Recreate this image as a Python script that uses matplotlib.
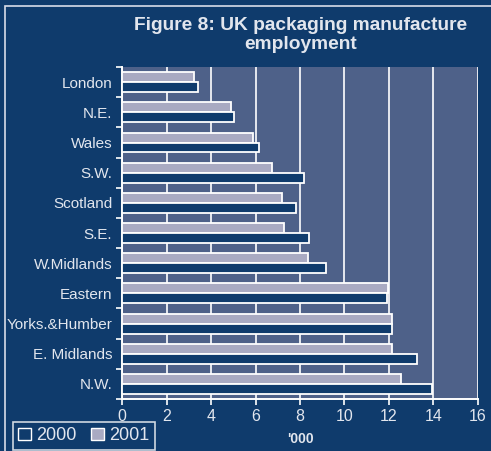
import matplotlib.pyplot as plt
import numpy as np
from matplotlib.patches import Patch, Rectangle

regions = ['London', 'N.E.', 'Wales', 'S.W.', 'Scotland', 'S.E.', 'W.Midlands',
           'Eastern', 'Yorks.&Humber', 'E. Midlands', 'N.W.']
emp_2000 = [3.4, 5.05, 6.15, 8.2, 7.8, 8.4, 9.15, 11.9, 12.15, 13.25, 13.95]
emp_2001 = [3.25, 4.9, 5.9, 6.75, 7.2, 7.3, 8.35, 11.95, 12.15, 12.15, 12.55]
xticks = [0, 2, 4, 6, 8, 10, 12, 14, 16]

navy = '#0f3b6c'
slate = '#4e6189'
lilac = '#a9aac2'
txt = '#e2e6ee'

plt.rcParams['font.family'] = ['Liberation Sans', 'DejaVu Sans']

fig = plt.figure(figsize=(4.91, 4.51), dpi=100, facecolor=navy)
ax = fig.add_axes([0.2485, 0.1153, 0.725, 0.736])
ax.set_facecolor(slate)

y = np.arange(len(regions))
h = 0.33
ax.barh(y - h / 2, emp_2001, height=h, color=lilac, edgecolor='white', linewidth=1.3, zorder=3)
ax.barh(y + h / 2, emp_2000, height=h, color=navy, edgecolor='white', linewidth=1.3, zorder=3)

ax.set_xlim(0, 16)
ax.set_ylim(len(regions) - 0.5, -0.5)
ax.set_xticks(xticks)
ax.set_xticklabels([str(t) for t in xticks], fontsize=11.5, color=txt)
ax.set_yticks(y)
ax.set_yticklabels(regions, fontsize=11, color=txt)
ax.set_yticks(np.arange(len(regions) + 1) - 0.5, minor=True)
ax.tick_params(axis='y', which='major', length=0, pad=7)
ax.tick_params(axis='y', which='minor', length=4, color='white', width=1.2)
ax.tick_params(axis='x', length=4, color='white', width=1.2, pad=3)
ax.grid(axis='x', color='white', linewidth=1.2, zorder=1)
ax.set_axisbelow(True)

for side in ['top', 'right']:
    ax.spines[side].set_visible(False)
for side in ['left', 'bottom']:
    ax.spines[side].set_color('white')
    ax.spines[side].set_linewidth(1.4)

ax.set_xlabel("'000", fontsize=10, fontweight='bold', color=txt, labelpad=6)

fig.text(0.612, 1 - 35 / 451, 'Figure 8: UK packaging manufacture\nemployment',
         ha='center', va='center', fontsize=13.8, fontweight='bold', color=txt,
         linespacing=1.15)

# outer frame line (left and top edges only show)
fig.add_artist(Rectangle((5 / 491, -0.1), 1.2, 1.1 - 6 / 451, transform=fig.transFigure,
                         fill=False, edgecolor='#d8dde8', linewidth=1.2))

handles = [Patch(facecolor=navy, edgecolor='white', label='2000'),
           Patch(facecolor=lilac, edgecolor='white', label='2001')]
leg = fig.legend(handles=handles, loc='upper left', bbox_to_anchor=(13 / 491, 1 - 422 / 451),
                 borderaxespad=0, ncol=2, frameon=True, fontsize=13, handlelength=0.7,
                 handleheight=0.7, handletextpad=0.3, columnspacing=0.8, borderpad=0.3,
                 fancybox=False, labelcolor=txt)
leg.get_frame().set_facecolor(navy)
leg.get_frame().set_edgecolor('white')
leg.get_frame().set_linewidth(1.2)

fig.savefig('out.png', dpi=100, facecolor=navy)
